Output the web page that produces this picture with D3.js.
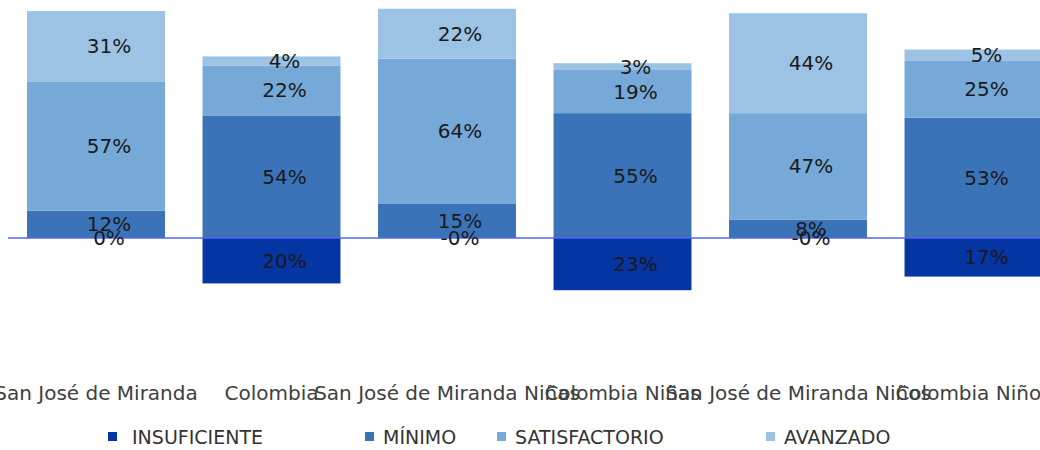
<!DOCTYPE html>
<html>
<head>
<meta charset="utf-8">
<script src="https://cdn.jsdelivr.net/npm/d3@7"></script>
<style>
  body { margin: 0; background: #fff; }
  svg { display: block; font-family: "DejaVu Sans", sans-serif; }
</style>
</head>
<body>
<div id="chart"></div>
<script>
var categories = [
  "San José de Miranda",
  "Colombia",
  "San José de Miranda Niñas",
  "Colombia Niñas",
  "San José de Miranda Niños",
  "Colombia Niños",
];
var levels = ["INSUFICIENTE", "MÍNIMO", "SATISFACTORIO", "AVANZADO"];
var insuficiente = [0, 20, 0, 23, 0, 17];
var minimo = [12, 54, 15, 55, 8, 53];
var satisfactorio = [57, 22, 64, 19, 47, 25];
var avanzado = [31, 4, 22, 3, 44, 5];

var width = 1040;
var height = 450;

var color = d3
  .scaleOrdinal()
  .domain(levels)
  .range(["#0535a3", "#3b73b9", "#76a8d8", "#9cc3e4"]);

var x = d3
  .scaleBand()
  .domain(categories)
  .range([8.25, 1061.25])
  .paddingInner(0.214)
  .paddingOuter(0.107);

var y = d3.scaleLinear().domain([0, 100]).range([238, 11]);

var svg = d3
  .select("#chart")
  .append("svg")
  .attr("width", width)
  .attr("height", height);

// build segments: insuficiente goes below zero, the rest stack upwards
var segments = [];
categories.forEach(function (c, i) {
  segments.push({ cat: c, level: levels[0], y0: -insuficiente[i], y1: 0, v: insuficiente[i], neg: true });
  var base = 0;
  [minimo, satisfactorio, avanzado].forEach(function (arr, k) {
    segments.push({ cat: c, level: levels[k + 1], y0: base, y1: base + arr[i], v: arr[i], neg: false });
    base += arr[i];
  });
});

svg
  .append("g")
  .selectAll("rect")
  .data(segments)
  .enter()
  .append("rect")
  .attr("x", (d) => x(d.cat))
  .attr("width", x.bandwidth())
  .attr("y", (d) => y(d.y1))
  .attr("height", (d) => y(d.y0) - y(d.y1))
  .attr("fill", (d) => color(d.level));

// zero line
svg
  .append("line")
  .attr("x1", 8)
  .attr("x2", width)
  .attr("y1", y(0))
  .attr("y2", y(0))
  .attr("stroke", "#5566ee")
  .attr("stroke-width", 1.5);

svg
  .append("g")
  .selectAll("text")
  .data(segments)
  .enter()
  .append("text")
  .attr("x", (d) => x(d.cat) + x.bandwidth() / 2 + 13)
  .attr("y", (d) => y((d.y0 + d.y1) / 2))
  .attr("dy", "0.35em")
  .attr("text-anchor", "middle")
  .attr("font-size", 20)
  .attr("fill", "#1a1a1a")
  .text(function (d) {
    if (d.neg && d.v === 0 && d.cat !== categories[0]) return "-0%";
    return d.v + "%";
  });

// category labels
svg
  .append("g")
  .selectAll("text")
  .data(categories)
  .enter()
  .append("text")
  .attr("x", (d) => x(d) + x.bandwidth() / 2)
  .attr("y", 393)
  .attr("dy", "0.35em")
  .attr("text-anchor", "middle")
  .attr("font-size", 20)
  .attr("fill", "#404040")
  .text((d) => d);

// legend
var legendX = [108, 365, 497, 766];
var legend = svg
  .append("g")
  .selectAll("g")
  .data(levels)
  .enter()
  .append("g")
  .attr("transform", (d, i) => "translate(" + legendX[i] + ",437)");

legend
  .append("rect")
  .attr("x", 0)
  .attr("y", -5)
  .attr("width", 9)
  .attr("height", 9)
  .attr("fill", (d) => color(d));

legend
  .append("text")
  .attr("x", (d, i) => (i === 0 ? 24 : 18))
  .attr("dy", "0.35em")
  .attr("font-size", 19)
  .attr("fill", "#333")
  .text((d) => d);
</script>
</body>
</html>
